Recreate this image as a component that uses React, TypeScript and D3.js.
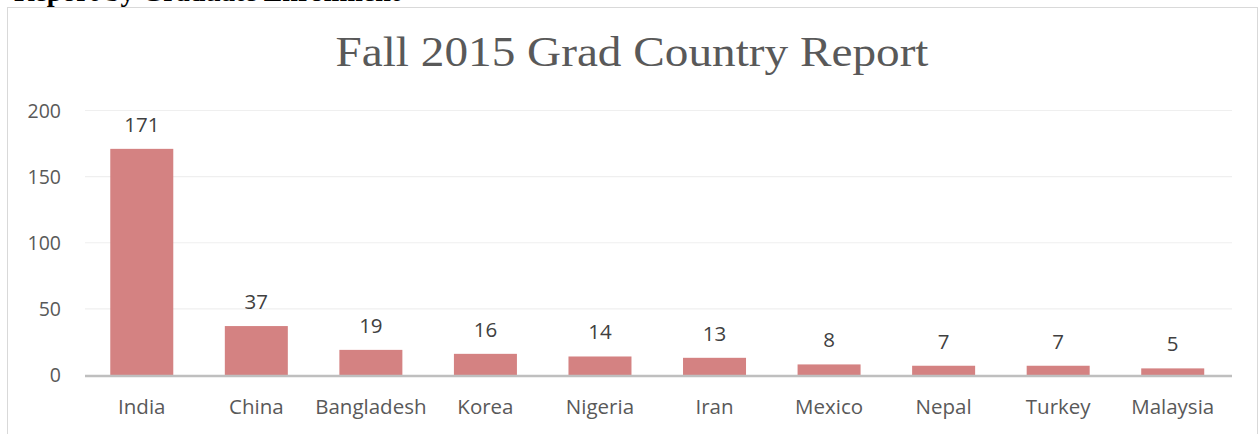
import React from "react";
import * as d3 from "d3";

const countries = ["India", "China", "Bangladesh", "Korea", "Nigeria", "Iran", "Mexico", "Nepal", "Turkey", "Malaysia"];
const students = [171, 37, 19, 16, 14, 13, 8, 7, 7, 5];
const yTicks = [0, 50, 100, 150, 200];
const chartTitle = "Fall 2015 Grad Country Report";
const headerText = "Report by Graduate Enrollment";

const W = 1260;
const H = 434;

export default function App() {
  const x = d3.scaleBand<string>().domain(countries).range([84.5, 1230]).paddingInner(0.45).paddingOuter(0.225);
  const y = d3.scaleLinear().domain([0, 200]).range([375, 110.5]);
  const font = "'Open Sans', 'Noto Sans', sans-serif";
  return (
    <svg width={W} height={H} style={{ position: "absolute", left: 0, top: 0, background: "#fff" }}>
      <text x={14} y={1} fontFamily="'Liberation Serif', serif" fontWeight="bold" fontSize={28} fill="#000">
        {headerText}
      </text>
      <rect x={7.5} y={7.5} width={1250} height={440} fill="#fff" stroke="#d9d9d9" strokeWidth={1} />
      <text x={632} y={66} textAnchor="middle" fontFamily="'Liberation Serif', serif" fontSize={43} fill="#595959"
        textLength={593} lengthAdjust="spacingAndGlyphs">
        {chartTitle}
      </text>
      {yTicks.map((t) => (
        <g key={t}>
          {t > 0 && <line x1={85} x2={1232} y1={y(t)} y2={y(t)} stroke="#efefef" strokeWidth={1.2} />}
          <text x={61} y={y(t) + 7} textAnchor="end" fontFamily={font} fontSize={19.5} fill="#595959">
            {t}
          </text>
        </g>
      ))}
      {countries.map((c, i) => (
        <g key={c}>
          <rect x={x(c)} y={y(students[i])} width={x.bandwidth()} height={y(0) - y(students[i])} fill="#d48282" />
          <text x={(x(c) as number) + x.bandwidth() / 2} y={y(students[i]) - 17} textAnchor="middle" fontFamily={font} fontSize={20.5} fill="#404040">
            {students[i]}
          </text>
          <text x={(x(c) as number) + x.bandwidth() / 2} y={414} textAnchor="middle" fontFamily={font} fontSize={20.5} fill="#595959">
            {c}
          </text>
        </g>
      ))}
      <line x1={85} x2={1232} y1={y(0) + 1} y2={y(0) + 1} stroke="#bfbfbf" strokeWidth={2.5} />
    </svg>
  );
}
